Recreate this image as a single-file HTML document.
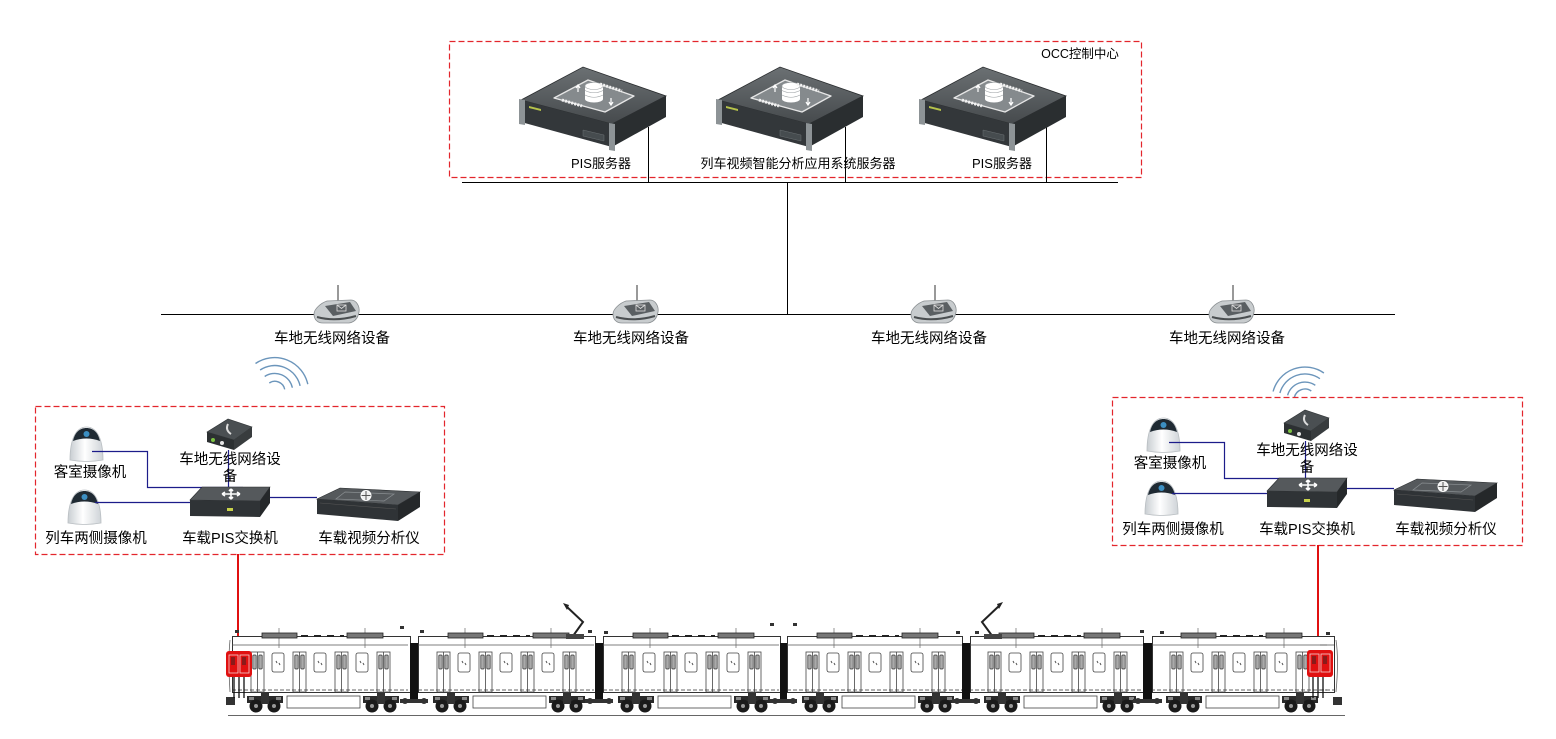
<!DOCTYPE html>
<html><head><meta charset="utf-8">
<style>
html,body{margin:0;padding:0;background:#fff;}
svg{display:block;}
text{font-family:"Liberation Sans","Noto Sans CJK SC",sans-serif;fill:#000;}
.lbl{font-size:14.5px;}
.occ{font-size:13px;}
.rbox{fill:none;stroke:#e3262c;stroke-width:1.2;stroke-dasharray:6 3;}
</style></head><body>
<svg width="1556" height="739" viewBox="0 0 1556 739" xmlns="http://www.w3.org/2000/svg">
<defs>
<linearGradient id="gTop" x1="0" y1="0" x2="0" y2="1"><stop offset="0" stop-color="#6b7073"/><stop offset="1" stop-color="#464a4d"/></linearGradient>
<linearGradient id="gCam" x1="0" y1="0" x2="1" y2="0"><stop offset="0" stop-color="#c9ced2"/><stop offset="0.45" stop-color="#ffffff"/><stop offset="1" stop-color="#cfd4d8"/></linearGradient>
<g id="srv">
 <polygon points="521,100 583,67 666,96 612,124" fill="url(#gTop)" stroke="#2a2d2f" stroke-width="0.8"/>
 <polygon points="521,100 612,124 612,147 521,122" fill="#33373a"/>
 <polygon points="612,124 666,96 666,117 612,147" fill="#2a2e30"/>
 <polygon points="519,99 525,100 525,125 519,124" fill="#8d9396"/>
 <polygon points="609,123 615,124 615,151 609,150" fill="#8d9396"/>
 <polygon points="529,106 541,109 541,111 529,108" fill="#b5c24a"/>
 <polygon points="583,130 604,135 604,141 583,136" fill="#464c4f" stroke="#6a7073" stroke-width="0.5"/>
 <polygon points="588,80 634,96 605,112 554,98" fill="#858a8d" stroke="#e6e6e6" stroke-width="1.3" stroke-linejoin="round"/>
 <rect x="585" y="86" width="18" height="13" fill="#fff"/>
 <ellipse cx="594" cy="99" rx="9" ry="3.5" fill="#fff"/>
 <ellipse cx="594" cy="86" rx="9" ry="3.5" fill="#fff" stroke="#9a9fa2" stroke-width="0.6"/>
 <path d="M585,90.5 Q594,95 603,90.5 M585,95 Q594,99.5 603,95" stroke="#9a9fa2" stroke-width="0.6" fill="none"/>
 <path d="M578,92 L578,86 M576,88 L578,85 L580,88 M611,98 L611,104 M609,102 L611,105 L613,102" stroke="#fff" stroke-width="1.2" fill="none"/>
 <path d="M600,84 L622,91 M562,100 L582,106" stroke="#f2f2f2" stroke-width="3" stroke-dasharray="2 1.2" fill="none"/>
</g>
<g id="ap">
 <line x1="637" y1="285" x2="637" y2="301" stroke="#777" stroke-width="1.5"/>
 <path d="M613,314 C613,309 620,303 626,301 L650,300 C655,300 659,306 658,312 C657,318 654,322 648,323 L622,323 C616,323 613,319 613,314 Z" fill="#c8ccce" stroke="#8a8f92" stroke-width="0.8"/>
 <path d="M624,306 L649,302 L655,311 L632,316 Z" fill="#5a5f62"/>
 <rect x="636" y="305" width="9" height="6" fill="none" stroke="#e0e0e0" stroke-width="0.8"/>
 <path d="M636,305 L640.5,308.5 L645,305" stroke="#e0e0e0" stroke-width="0.8" fill="none"/>
 <path d="M616,317 Q634,322 655,316" stroke="#4a4e50" stroke-width="2" fill="none"/>
</g>
<g id="cam">
 <path d="M0,33 C0,12 6,0 16.5,0 C27,0 33,12 33,33 Q16.5,36 0,33 Z" fill="url(#gCam)" stroke="#b9bec2" stroke-width="0.8"/>
 <path d="M3,14 C5,5 10,1 16.5,1 C23,1 28,5 30,14 Q16.5,9 3,14 Z" fill="#1f2a33"/>
 <circle cx="16.5" cy="7" r="3" fill="#3c8fc2"/>
</g>
<g id="bog">
 <rect x="0" y="696" width="36" height="7" fill="#2a2a2a"/>
 <circle cx="9" cy="706" r="6.5" fill="#1a1a1a"/>
 <circle cx="27" cy="706" r="6.5" fill="#1a1a1a"/>
 <circle cx="9" cy="706" r="2" fill="#999"/>
 <circle cx="27" cy="706" r="2" fill="#999"/>
 <rect x="14" y="693" width="8" height="11" fill="#333"/>
 <rect x="2" y="697" width="5" height="3" fill="#888"/>
 <rect x="29" y="697" width="5" height="3" fill="#888"/>
</g>
<g id="door">
 <rect x="0" y="652" width="13" height="40" fill="#fff" stroke="#444" stroke-width="0.8"/>
 <line x1="6.5" y1="652" x2="6.5" y2="692" stroke="#444" stroke-width="0.8"/>
 <rect x="1.8" y="655" width="3.4" height="14" rx="1" fill="#aaa" stroke="#333" stroke-width="0.7"/>
 <rect x="7.8" y="655" width="3.4" height="14" rx="1" fill="#aaa" stroke="#333" stroke-width="0.7"/>
</g>
<g id="win">
 <rect x="0" y="653" width="12" height="19" rx="2" fill="#fff" stroke="#444" stroke-width="0.8"/>
 <path d="M4,661 l1,2 M7,663 l1,2" stroke="#555" stroke-width="1"/>
</g>
<g id="carin">
 <line x1="0" y1="645" x2="176" y2="645" stroke="#555" stroke-width="0.8"/>
 <line x1="47" y1="628" x2="47" y2="648" stroke="#666" stroke-width="0.7"/>
 <line x1="133" y1="628" x2="133" y2="648" stroke="#666" stroke-width="0.7"/>
 <rect x="30" y="633" width="35" height="5" fill="#777" stroke="#222" stroke-width="0.8"/>
 <rect x="115" y="633" width="36" height="5" fill="#777" stroke="#222" stroke-width="0.8"/>
 <line x1="69" y1="636" x2="112" y2="636" stroke="#222" stroke-width="2" stroke-dasharray="7 6"/>
 <use href="#door" x="19"/><use href="#door" x="61"/><use href="#door" x="103"/><use href="#door" x="145"/>
 <use href="#win" x="40"/><use href="#win" x="82"/><use href="#win" x="124"/>
 <line x1="0" y1="690" x2="176" y2="690" stroke="#333" stroke-width="0.8" stroke-dasharray="4 2"/>
 <rect x="55" y="696" width="73" height="12" fill="#fff" stroke="#444" stroke-width="0.8"/>
 <use href="#bog" x="15"/><use href="#bog" x="131"/>
</g>
</defs>

<rect width="1556" height="739" fill="#fff"/>

<!-- OCC -->
<rect class="rbox" x="449.5" y="41.5" width="692" height="136"/>
<text class="occ" x="1080" y="58" text-anchor="middle" style="font-size:12.5px">OCC控制中心</text>
<path d="M648.5,127 V182 M845.5,127 V182 M1046.5,127 V182 M462,182.5 H1118 M787.5,182 V314" stroke="#000" stroke-width="1" fill="none"/>
<use href="#srv"/>
<use href="#srv" x="197"/>
<use href="#srv" x="400"/>
<text class="occ" x="601" y="168" text-anchor="middle">PIS服务器</text>
<text class="occ" x="798" y="168" text-anchor="middle">列车视频智能分析应用系统服务器</text>
<text class="occ" x="1002" y="168" text-anchor="middle">PIS服务器</text>

<!-- wayside line -->
<line x1="161" y1="314.5" x2="1395" y2="314.5" stroke="#000" stroke-width="1"/>
<use href="#ap" x="-299"/>
<use href="#ap"/>
<use href="#ap" x="298"/>
<use href="#ap" x="596"/>
<text class="lbl" x="332" y="343" text-anchor="middle">车地无线网络设备</text>
<text class="lbl" x="631" y="343" text-anchor="middle">车地无线网络设备</text>
<text class="lbl" x="929" y="343" text-anchor="middle">车地无线网络设备</text>
<text class="lbl" x="1227" y="343" text-anchor="middle">车地无线网络设备</text>

<!-- wifi arcs -->
<g stroke="#6b95bb" stroke-width="1.4" fill="none">
 <path d="M269.3,383.0 A10 10 0 0 1 284.7,389.4"/>
 <path d="M264.7,376.5 A18 18 0 0 1 292.4,387.7"/>
 <path d="M260.1,370.0 A26 26 0 0 1 300.1,385.9"/>
 <path d="M255.5,363.5 A34 34 0 0 1 307.8,384.2"/>
 <path d="M1294.4,397.2 A11 11 0 0 1 1311.3,391.0"/>
 <path d="M1287.6,395.3 A18 18 0 0 1 1315.3,385.3"/>
 <path d="M1279.9,393.0 A26 26 0 0 1 1319.9,378.7"/>
 <path d="M1273.1,391.5 A33 33 0 0 1 1323.9,373.0"/>
</g>

<!-- train boxes -->
<rect class="rbox" x="35.5" y="406.5" width="409" height="148"/>
<rect class="rbox" x="1112.5" y="397.5" width="410" height="148"/>

<g>
 <use href="#cam" x="70" y="427"/>
 <use href="#cam" x="68" y="490"/>
 <polygon points="207,432 228,419 252,427 234,440" fill="#4a4f52" stroke="#2f3335" stroke-width="0.6"/>
 <polygon points="207,432 234,440 234,450 207,442" fill="#2c3032"/>
 <polygon points="234,440 252,427 252,437 234,450" fill="#383c3e"/>
 <path d="M228,424 Q225,430 231,434" stroke="#ddd" stroke-width="2" fill="none"/>
 <circle cx="213" cy="440" r="2" fill="#7cc242"/>
 <circle cx="222" cy="443" r="2" fill="#e8e8e8"/>
 <path d="M92,451.5 H147.5 V487.5 H243 M95,502.5 H190 M270,497.5 H317 M228.5,450 V487" stroke="#1c1c8a" stroke-width="1.2" fill="none"/>
 <polygon points="190,500 202,487 270,487 260,501" fill="#55595c" stroke="#2a2d2f" stroke-width="0.6"/>
 <polygon points="190,500 260,501 260,517 190,516" fill="#2f3336"/>
 <polygon points="260,501 270,487 270,503 260,517" fill="#25282a"/>
 <rect x="227" y="508" width="6" height="3" fill="#c8d24a"/>
 <path d="M222,494 H240 M231,489 V499 M222,494 l3,-2 M222,494 l3,2 M240,494 l-3,-2 M240,494 l-3,2 M231,489 l-2,2 M231,489 l2,2 M231,499 l-2,-2 M231,499 l2,-2" stroke="#fff" stroke-width="1.6" fill="none"/>
 <polygon points="317,499 340,488 420,492 398,505" fill="#55595c" stroke="#2a2d2f" stroke-width="0.6"/>
 <polygon points="317,499 398,505 398,521 317,514" fill="#2f3336"/>
 <polygon points="398,505 420,492 420,507 398,521" fill="#25282a"/>
 <polygon points="345,492 394,494 384,501 336,499" fill="none" stroke="#8a8f92" stroke-width="0.7"/>
 <circle cx="366" cy="495.5" r="5" fill="#eee" stroke="#fff"/>
 <path d="M366,491 V500 M361.5,495.5 H370.5" stroke="#555" stroke-width="1"/>
 <line x1="320" y1="503" x2="396" y2="509" stroke="#555" stroke-width="0.6"/>
 <text class="lbl" x="90" y="477" text-anchor="middle">客室摄像机</text>
 <text class="lbl" x="96" y="543" text-anchor="middle">列车两侧摄像机</text>
 <text class="lbl" x="230" y="543" text-anchor="middle">车载PIS交换机</text>
 <text class="lbl" x="369" y="543" text-anchor="middle">车载视频分析仪</text>
 <text class="lbl" x="230" y="464" text-anchor="middle">车地无线网络设</text>
 <text class="lbl" x="230" y="481" text-anchor="middle">备</text>
</g>
<g transform="translate(1077,-9)">
 <use href="#cam" x="70" y="427"/>
 <use href="#cam" x="68" y="490"/>
 <polygon points="207,432 228,419 252,427 234,440" fill="#4a4f52" stroke="#2f3335" stroke-width="0.6"/>
 <polygon points="207,432 234,440 234,450 207,442" fill="#2c3032"/>
 <polygon points="234,440 252,427 252,437 234,450" fill="#383c3e"/>
 <path d="M228,424 Q225,430 231,434" stroke="#ddd" stroke-width="2" fill="none"/>
 <circle cx="213" cy="440" r="2" fill="#7cc242"/>
 <circle cx="222" cy="443" r="2" fill="#e8e8e8"/>
 <path d="M92,451.5 H147.5 V487.5 H243 M95,502.5 H190 M270,497.5 H317 M228.5,450 V487" stroke="#1c1c8a" stroke-width="1.2" fill="none"/>
 <polygon points="190,500 202,487 270,487 260,501" fill="#55595c" stroke="#2a2d2f" stroke-width="0.6"/>
 <polygon points="190,500 260,501 260,517 190,516" fill="#2f3336"/>
 <polygon points="260,501 270,487 270,503 260,517" fill="#25282a"/>
 <rect x="227" y="508" width="6" height="3" fill="#c8d24a"/>
 <path d="M222,494 H240 M231,489 V499 M222,494 l3,-2 M222,494 l3,2 M240,494 l-3,-2 M240,494 l-3,2 M231,489 l-2,2 M231,489 l2,2 M231,499 l-2,-2 M231,499 l2,-2" stroke="#fff" stroke-width="1.6" fill="none"/>
 <polygon points="317,499 340,488 420,492 398,505" fill="#55595c" stroke="#2a2d2f" stroke-width="0.6"/>
 <polygon points="317,499 398,505 398,521 317,514" fill="#2f3336"/>
 <polygon points="398,505 420,492 420,507 398,521" fill="#25282a"/>
 <polygon points="345,492 394,494 384,501 336,499" fill="none" stroke="#8a8f92" stroke-width="0.7"/>
 <circle cx="366" cy="495.5" r="5" fill="#eee" stroke="#fff"/>
 <path d="M366,491 V500 M361.5,495.5 H370.5" stroke="#555" stroke-width="1"/>
 <line x1="320" y1="503" x2="396" y2="509" stroke="#555" stroke-width="0.6"/>
 <text class="lbl" x="93" y="477" text-anchor="middle">客室摄像机</text>
 <text class="lbl" x="96" y="543" text-anchor="middle">列车两侧摄像机</text>
 <text class="lbl" x="230" y="543" text-anchor="middle">车载PIS交换机</text>
 <text class="lbl" x="369" y="543" text-anchor="middle">车载视频分析仪</text>
 <text class="lbl" x="230" y="464" text-anchor="middle">车地无线网络设</text>
 <text class="lbl" x="230" y="481" text-anchor="middle">备</text>
</g>

<!-- red links -->
<line x1="238" y1="554" x2="238" y2="652" stroke="#e01010" stroke-width="2"/>
<line x1="1318" y1="545" x2="1318" y2="651" stroke="#e01010" stroke-width="2"/>

<!-- TRAIN -->
<line x1="228" y1="715.5" x2="1345" y2="715.5" stroke="#666" stroke-width="1"/>
<g fill="#fff" stroke="#333" stroke-width="1">
 <rect x="232.5" y="636.5" width="178" height="56"/>
 <rect x="418.5" y="636.5" width="177" height="56"/>
 <rect x="603.5" y="636.5" width="177" height="56"/>
 <rect x="787.5" y="636.5" width="175" height="56"/>
 <rect x="970.5" y="636.5" width="173" height="56"/>
 <rect x="1152.5" y="636.5" width="182" height="56"/>
</g>
<use href="#carin" x="232"/>
<use href="#carin" x="418"/>
<use href="#carin" x="603"/>
<use href="#carin" x="787"/>
<use href="#carin" x="969"/>
<use href="#carin" x="1151"/>
<line x1="1320" y1="645" x2="1334" y2="645" stroke="#555" stroke-width="0.8"/>
<line x1="1320" y1="690" x2="1334" y2="690" stroke="#333" stroke-width="0.8" stroke-dasharray="4 2"/>
<g fill="#111">
 <rect x="410" y="643" width="8" height="56"/>
 <rect x="595" y="643" width="8" height="56"/>
 <rect x="780" y="643" width="7" height="56"/>
 <rect x="962" y="643" width="8" height="56"/>
 <rect x="1143" y="643" width="9" height="56"/>
</g>
<g fill="#333">
 <rect x="400" y="699" width="28" height="4"/>
 <rect x="585" y="699" width="28" height="4"/>
 <rect x="770" y="699" width="27" height="4"/>
 <rect x="952" y="699" width="28" height="4"/>
 <rect x="1133" y="699" width="29" height="4"/>
 <circle cx="405" cy="701" r="3"/><circle cx="424" cy="701" r="3"/>
 <circle cx="590" cy="701" r="3"/><circle cx="609" cy="701" r="3"/>
 <circle cx="775" cy="701" r="3"/><circle cx="793" cy="701" r="3"/>
 <circle cx="957" cy="701" r="3"/><circle cx="976" cy="701" r="3"/>
 <circle cx="1138" cy="701" r="3"/><circle cx="1157" cy="701" r="3"/>
 <rect x="226" y="697" width="9" height="8"/>
 <rect x="1333" y="697" width="9" height="8"/>
</g>
<path d="M234,673 V698 M239,673 V698 M244,673 V698 M1313,673 V698 M1318,673 V698 M1323,673 V698" stroke="#111" stroke-width="1.3"/>
<path d="M230,640 Q228,660 230,692 M1336,640 Q1339,660 1336,692" stroke="#666" stroke-width="0.8" fill="none"/>
<rect x="226" y="651" width="26" height="26" rx="3" fill="#e01010"/>
<rect x="229" y="655" width="9" height="18" fill="none" stroke="#f3d0d0" stroke-width="0.8"/>
<rect x="240" y="655" width="9" height="18" fill="none" stroke="#f3d0d0" stroke-width="0.8"/>
<rect x="231" y="657" width="4" height="8" fill="#8a1a1a"/>
<rect x="242" y="657" width="4" height="8" fill="#8a1a1a"/>
<rect x="1307" y="650" width="26" height="27" rx="3" fill="#e01010"/>
<rect x="1310" y="654" width="9" height="18" fill="none" stroke="#f3d0d0" stroke-width="0.8"/>
<rect x="1321" y="654" width="9" height="18" fill="none" stroke="#f3d0d0" stroke-width="0.8"/>
<rect x="1312" y="656" width="4" height="8" fill="#8a1a1a"/>
<rect x="1323" y="656" width="4" height="8" fill="#8a1a1a"/>
<path d="M566,606 L583,622 L573,636" stroke="#222" stroke-width="2" fill="none"/>
<path d="M563,603 l6,2 l-2,5 Z" fill="#222"/>
<rect x="566" y="634" width="18" height="5" fill="#444"/>
<path d="M1000,605 L982,622 L993,637" stroke="#222" stroke-width="2" fill="none"/>
<path d="M1003,602 l-6,2 l2,5 Z" fill="#222"/>
<rect x="984" y="634" width="18" height="5" fill="#444"/>
<g fill="#333">
 <rect x="235" y="630" width="4" height="3"/><rect x="400" y="626" width="4" height="3"/><rect x="420" y="630" width="4" height="3"/>
 <rect x="588" y="630" width="4" height="3"/><rect x="604" y="631" width="4" height="3"/><rect x="770" y="623" width="4" height="3"/>
 <rect x="793" y="623" width="4" height="3"/><rect x="956" y="631" width="4" height="3"/><rect x="975" y="631" width="4" height="3"/>
 <rect x="1140" y="630" width="4" height="3"/><rect x="1160" y="631" width="4" height="3"/><rect x="1326" y="632" width="4" height="3"/>
</g>
</svg>
</body></html>
